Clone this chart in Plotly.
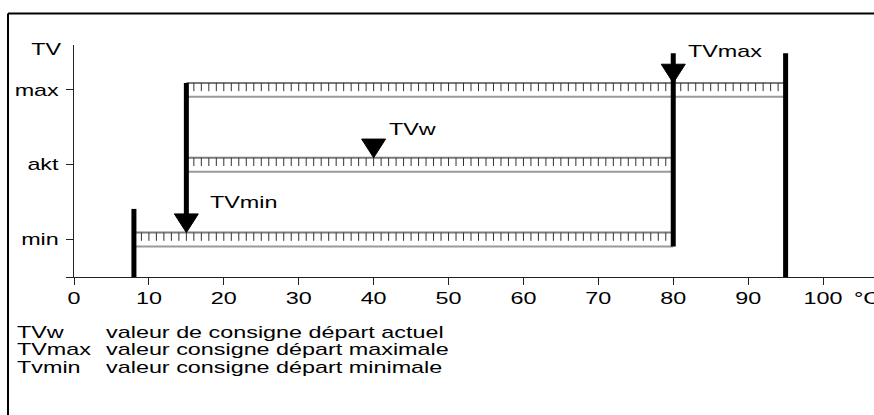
import json
import plotly.graph_objects as go

# ---------------- data ----------------
x_ticks = [0, 10, 20, 30, 40, 50, 60, 70, 80, 90, 100]
x_tick_labels = [str(v) for v in x_ticks]
y_levels = [1, 2, 3]
y_labels = ["min", "akt", "max"]

tv_min = 15          # TVmin setpoint (°C)
tv_w = 40            # TVw current setpoint (°C)
tv_max = 80          # TVmax setpoint (°C)
lower_limit = 8      # lower adjustment limit (°C)
upper_limit = 95     # upper adjustment limit (°C)

rail_levels = [3, 2, 1]          # max, akt, min
rail_start = [15, 15, 8]
rail_end = [95, 80, 80]

legend_terms = ["TVw", "TVmax", "Tvmin"]
legend_defs = ["valeur de consigne départ actuel",
               "valeur consigne départ maximale",
               "valeur consigne départ minimale"]

# ---------------- style ----------------
FONT = "Liberation Sans, Arial, sans-serif"
FS = 16            # font size (vertical)
X_STRETCH = 1.46   # horizontal stretch of the text, as in the reference
RAIL_H = 0.093
TICK_L = 0.11
HEAD_W = 1.6
HEAD_H = 0.25
BAR_W = 5
Y0 = 0.5
Y_TOP = 3.6
BAR_TOP = 3.49
X_MAX = 106.8

fig = go.Figure()

for lvl, s, e in zip(rail_levels, rail_start, rail_end):
    fig.add_trace(go.Scatter(x=[s, e], y=[lvl + RAIL_H] * 2, mode="lines",
                             line=dict(color="#7a7a7a", width=2), hoverinfo="skip"))
    fig.add_trace(go.Scatter(x=[s, e], y=[lvl - RAIL_H] * 2, mode="lines",
                             line=dict(color="#9a9a9a", width=2), hoverinfo="skip"))
    tx, ty = [], []
    for v in range(s + 1, e):
        tx += [v, v, None]
        ty += [lvl + RAIL_H, lvl + RAIL_H - TICK_L, None]
    fig.add_trace(go.Scatter(x=tx, y=ty, mode="lines",
                             line=dict(color="#333333", width=1), hoverinfo="skip"))

min_tip = rail_levels[2] + RAIL_H
max_tip = rail_levels[0] + RAIL_H
w_tip = rail_levels[1] + RAIL_H

bars = [
    (lower_limit, Y0, 1.41),
    (tv_min, min_tip + HEAD_H * 0.5, max_tip),
    (tv_max, rail_levels[2] - RAIL_H, BAR_TOP),
    (upper_limit, Y0, BAR_TOP),
]
for bx, y_lo, y_hi in bars:
    fig.add_trace(go.Scatter(x=[bx, bx], y=[y_lo, y_hi], mode="lines",
                             line=dict(color="black", width=BAR_W), hoverinfo="skip",
                             cliponaxis=False))

for ax_, tip in [(tv_min, min_tip), (tv_max, max_tip), (tv_w, w_tip)]:
    fig.add_trace(go.Scatter(x=[ax_ - HEAD_W, ax_ + HEAD_W, ax_, ax_ - HEAD_W],
                             y=[tip + HEAD_H, tip + HEAD_H, tip, tip + HEAD_H],
                             mode="lines", fill="toself", fillcolor="black",
                             line=dict(color="black", width=1), hoverinfo="skip"))

annotations = []
anchors = []

def add_ann(**kw):
    kw.setdefault("showarrow", False)
    kw.setdefault("borderpad", 0)
    kw.setdefault("font", dict(family=FONT, size=FS, color="black"))
    annotations.append(kw)
    anchors.append(kw.get("xanchor", "center"))

for txt, ax_, ay in [("TVmax", tv_max + 1.9, 3.51), ("TVw", tv_w + 1.9, 2.47), ("TVmin", tv_min + 3.0, 1.49)]:
    add_ann(x=ax_, y=ay, xref="x", yref="y", text=txt, xanchor="left", yanchor="middle")

def px(xp):
    return (xp - 74) / 800.0

def py(yp):
    return (277 - yp) / 232.0

add_ann(x=px(46), y=py(49), xref="paper", yref="paper", text="TV", xanchor="center", yanchor="middle")
add_ann(x=px(853), y=py(298), xref="paper", yref="paper", text="°C", xanchor="left", yanchor="middle")
for i, (term, d) in enumerate(zip(legend_terms, legend_defs)):
    yy = py(332 + 17.5 * i)
    add_ann(x=px(16), y=yy, xref="paper", yref="paper", text=term, xanchor="left", yanchor="middle")
    add_ann(x=px(105), y=yy, xref="paper", yref="paper", text=d, xanchor="left", yanchor="middle")

shapes = [
    dict(type="line", xref="paper", yref="paper", x0=px(8), y0=py(13.5), x1=1.01, y1=py(13.5),
         line=dict(color="black", width=2)),
    dict(type="line", xref="paper", yref="paper", x0=px(8), y0=py(13.5), x1=px(8), y1=py(420),
         line=dict(color="black", width=2)),
]

fig.update_layout(
    width=874, height=415,
    margin=dict(l=74, r=0, t=45, b=138, pad=0),
    paper_bgcolor="white", plot_bgcolor="white",
    showlegend=False,
    annotations=annotations, shapes=shapes,
    xaxis=dict(range=[0, X_MAX], tickvals=x_ticks, ticktext=x_tick_labels,
               showline=True, linecolor="#222", linewidth=1,
               ticks="outside", ticklen=7, tickcolor="#222",
               showgrid=False, zeroline=False,
               tickfont=dict(family=FONT, size=FS, color="black")),
    yaxis=dict(range=[Y0, Y_TOP], tickvals=[Y0] + y_levels, ticktext=[""] + y_labels,
               showline=True, linecolor="#222", linewidth=1,
               ticks="outside", ticklen=7, tickcolor="#222", ticklabelstandoff=4,
               showgrid=False, zeroline=False,
               tickfont=dict(family=FONT, size=FS, color="black")),
)

post = """
document.body.style.margin = '0';
document.body.style.overflow = 'hidden';
var gd = document.getElementById('{plot_id}');
var S = %s;
var anchors = %s;
function stretch(t, mode) {
  var bb = t.getBBox();
  var ox = mode === 'left' ? bb.x : (mode === 'right' ? bb.x + bb.width : bb.x + bb.width / 2);
  var tr = t.getAttribute('transform') || '';
  t.setAttribute('transform', tr + ' translate(' + ox + ',0) scale(' + S + ',1) translate(' + (-ox) + ',0)');
}
gd.querySelectorAll('g.annotation').forEach(function(g) {
  var idx = +g.getAttribute('data-index');
  var t = g.querySelector('text');
  if (t) stretch(t, anchors[idx] || 'center');
});
gd.querySelectorAll('g.xtick text').forEach(function(t) { stretch(t, 'center'); });
gd.querySelectorAll('g.ytick text').forEach(function(t) { stretch(t, 'right'); });
""" % (X_STRETCH, json.dumps(anchors))

fig.write_html("out.html", config={"displayModeBar": False}, post_script=post)
